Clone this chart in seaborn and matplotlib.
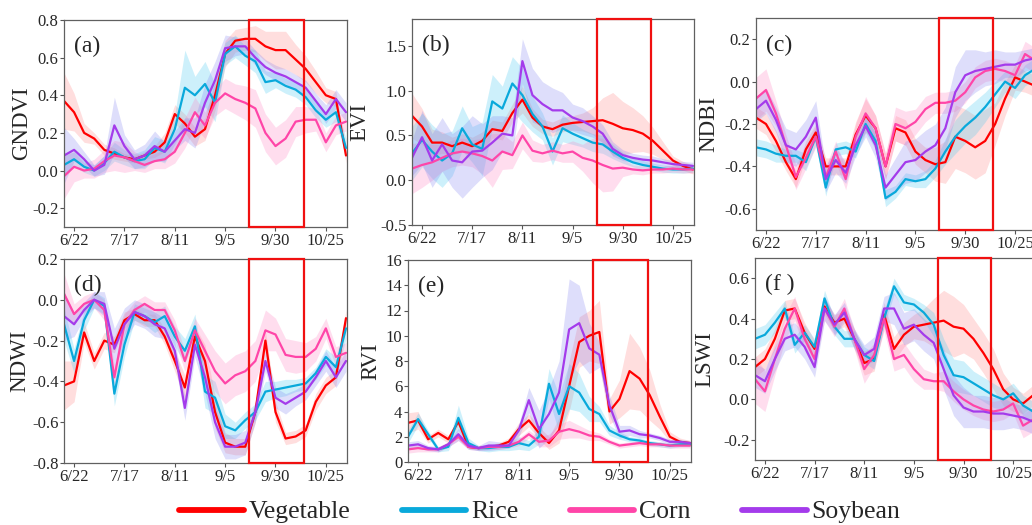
import pandas as pd
import numpy as np
import matplotlib
matplotlib.use('Agg')
import matplotlib.pyplot as plt
from matplotlib.lines import Line2D
from matplotlib.patches import Rectangle
import seaborn as sns

# days counted from 6/22, one reading every 5 days (6/17 ... 11/4)
days = [-5, 0, 5, 10, 15, 20, 25, 30, 35, 40, 45, 50, 55, 60, 65,
        70, 75, 80, 85, 90, 95, 100, 105, 110, 115, 120, 125, 130, 135]
tick_days = [0, 25, 50, 75, 100, 125]
tick_dates = ['6/22', '7/17', '8/11', '9/5', '9/30', '10/25']
box_start, box_end = 87, 114   # highlighted window (~9/17 - 10/14)

crops = ['Vegetable', 'Rice', 'Corn', 'Soybean']
line_colors = ['#FF0000', '#09A9DB', '#FF45A8', '#A43BEB']
band_colors = ['#FF8080', '#40C8F0', '#FF7FC0', '#8080F0']

# ---- GNDVI ----
gndvi_veg = [0.37, 0.31, 0.20, 0.17, 0.11, 0.09, 0.07, 0.06, 0.08, 0.10, 0.15, 0.30, 0.25, 0.18, 0.22,
             0.40, 0.62, 0.69, 0.70, 0.70, 0.66, 0.64, 0.64, 0.59, 0.54, 0.47, 0.40, 0.38, 0.08]
gndvi_rice = [0.03, 0.06, 0.02, 0.00, 0.04, 0.10, 0.07, 0.05, 0.06, 0.12, 0.10, 0.22, 0.44, 0.40, 0.46,
              0.36, 0.62, 0.66, 0.61, 0.58, 0.47, 0.48, 0.45, 0.43, 0.39, 0.32, 0.27, 0.31, 0.12]
gndvi_corn = [-0.03, 0.02, 0.00, 0.01, 0.05, 0.08, 0.07, 0.05, 0.03, 0.05, 0.06, 0.10, 0.20, 0.31, 0.24,
              0.36, 0.41, 0.38, 0.36, 0.33, 0.20, 0.13, 0.17, 0.26, 0.27, 0.27, 0.15, 0.24, 0.26]
gndvi_soy = [0.08, 0.11, 0.06, 0.00, 0.03, 0.24, 0.13, 0.06, 0.08, 0.13, 0.10, 0.16, 0.22, 0.20, 0.36,
             0.48, 0.65, 0.66, 0.66, 0.60, 0.55, 0.52, 0.50, 0.47, 0.44, 0.37, 0.30, 0.38, 0.31]
gndvi_veg_sd = [0.15, 0.10, 0.05, 0.03, 0.03, 0.03, 0.02, 0.02, 0.02, 0.03, 0.05, 0.05, 0.05, 0.05, 0.06,
                0.08, 0.07, 0.06, 0.06, 0.07, 0.08, 0.10, 0.10, 0.08, 0.07, 0.06, 0.04, 0.04, 0.04]
gndvi_rice_sd = [0.05, 0.04, 0.03, 0.03, 0.04, 0.05, 0.04, 0.04, 0.05, 0.06, 0.06, 0.08, 0.20, 0.10, 0.12,
                 0.10, 0.06, 0.06, 0.05, 0.06, 0.06, 0.04, 0.04, 0.04, 0.04, 0.04, 0.04, 0.05, 0.05]
gndvi_corn_sd = [0.12, 0.08, 0.04, 0.05, 0.06, 0.08, 0.08, 0.05, 0.04, 0.04, 0.05, 0.06, 0.08, 0.08, 0.07,
                 0.07, 0.08, 0.08, 0.09, 0.10, 0.10, 0.10, 0.10, 0.08, 0.07, 0.06, 0.05, 0.05, 0.05]
gndvi_soy_sd = [0.15, 0.06, 0.04, 0.03, 0.05, 0.15, 0.06, 0.05, 0.06, 0.08, 0.05, 0.05, 0.06, 0.08, 0.10,
                0.10, 0.07, 0.05, 0.04, 0.04, 0.04, 0.04, 0.04, 0.04, 0.04, 0.04, 0.05, 0.05, 0.05]

# ---- EVI ----
evi_veg = [0.72, 0.60, 0.42, 0.42, 0.38, 0.42, 0.38, 0.44, 0.57, 0.55, 0.75, 0.90, 0.70, 0.60, 0.57,
           0.62, 0.64, 0.65, 0.66, 0.67, 0.63, 0.58, 0.56, 0.52, 0.44, 0.33, 0.22, 0.16, 0.12]
evi_rice = [0.30, 0.45, 0.32, 0.22, 0.30, 0.58, 0.40, 0.35, 0.88, 0.80, 1.08, 0.95, 0.74, 0.60, 0.32,
            0.58, 0.52, 0.47, 0.42, 0.40, 0.32, 0.25, 0.20, 0.17, 0.15, 0.13, 0.12, 0.12, 0.13]
evi_corn = [0.13, 0.17, 0.20, 0.25, 0.30, 0.32, 0.30, 0.27, 0.22, 0.32, 0.28, 0.50, 0.33, 0.30, 0.33,
            0.30, 0.32, 0.25, 0.22, 0.17, 0.13, 0.14, 0.12, 0.11, 0.12, 0.12, 0.13, 0.12, 0.12]
evi_soy = [0.25, 0.48, 0.22, 0.40, 0.22, 0.20, 0.32, 0.33, 0.42, 0.52, 0.50, 1.33, 0.95, 0.85, 0.78,
           0.78, 0.70, 0.66, 0.60, 0.52, 0.35, 0.28, 0.25, 0.23, 0.22, 0.20, 0.18, 0.17, 0.16]
evi_veg_sd = [0.25, 0.20, 0.15, 0.12, 0.10, 0.10, 0.10, 0.10, 0.10, 0.10, 0.10, 0.15, 0.10, 0.08, 0.08,
              0.08, 0.08, 0.10, 0.15, 0.25, 0.35, 0.30, 0.25, 0.20, 0.15, 0.10, 0.05, 0.05, 0.05]
evi_rice_sd = [0.30, 0.30, 0.30, 0.30, 0.25, 0.25, 0.20, 0.30, 0.30, 0.25, 0.30, 0.30, 0.20, 0.15, 0.15,
               0.15, 0.12, 0.10, 0.10, 0.10, 0.08, 0.06, 0.05, 0.05, 0.04, 0.04, 0.04, 0.04, 0.04]
evi_corn_sd = [0.28, 0.25, 0.20, 0.15, 0.15, 0.15, 0.15, 0.20, 0.30, 0.20, 0.15, 0.15, 0.12, 0.10, 0.10,
               0.10, 0.12, 0.15, 0.25, 0.30, 0.25, 0.10, 0.05, 0.05, 0.04, 0.04, 0.04, 0.04, 0.04]
evi_soy_sd = [0.20, 0.30, 0.30, 0.30, 0.30, 0.40, 0.40, 0.30, 0.30, 0.20, 0.20, 0.25, 0.30, 0.25, 0.25,
              0.20, 0.15, 0.15, 0.12, 0.10, 0.08, 0.06, 0.05, 0.05, 0.05, 0.04, 0.04, 0.04, 0.04]

# ---- NDBI ----
ndbi_veg = [-0.17, -0.20, -0.28, -0.38, -0.46, -0.32, -0.24, -0.40, -0.40, -0.40, -0.25, -0.16, -0.22, -0.40, -0.22,
            -0.24, -0.33, -0.37, -0.39, -0.38, -0.26, -0.28, -0.31, -0.28, -0.20, -0.08, 0.02, 0.00, -0.02]
ndbi_rice = [-0.31, -0.32, -0.34, -0.35, -0.35, -0.38, -0.26, -0.50, -0.32, -0.31, -0.33, -0.20, -0.28, -0.55, -0.52,
             -0.46, -0.47, -0.46, -0.41, -0.33, -0.26, -0.21, -0.17, -0.12, -0.06, 0.00, -0.03, 0.03, 0.06]
ndbi_corn = [-0.08, -0.04, -0.15, -0.30, -0.45, -0.36, -0.26, -0.45, -0.33, -0.46, -0.26, -0.15, -0.22, -0.40, -0.20,
             -0.22, -0.19, -0.13, -0.10, -0.10, -0.09, -0.05, 0.02, 0.05, 0.06, 0.05, 0.03, 0.13, 0.10]
ndbi_soy = [-0.13, -0.09, -0.18, -0.30, -0.32, -0.26, -0.17, -0.46, -0.37, -0.43, -0.30, -0.21, -0.30, -0.50, -0.44,
            -0.38, -0.37, -0.33, -0.30, -0.22, -0.05, 0.03, 0.05, 0.06, 0.07, 0.08, 0.08, 0.10, 0.11]
ndbi_veg_sd = [0.05, 0.05, 0.05, 0.04, 0.04, 0.04, 0.04, 0.04, 0.04, 0.04, 0.06, 0.08, 0.06, 0.06, 0.06,
               0.06, 0.06, 0.06, 0.08, 0.10, 0.15, 0.15, 0.15, 0.15, 0.10, 0.08, 0.06, 0.05, 0.05]
ndbi_rice_sd = [0.04, 0.04, 0.04, 0.03, 0.03, 0.04, 0.04, 0.04, 0.03, 0.03, 0.03, 0.04, 0.04, 0.04, 0.03,
                0.03, 0.03, 0.04, 0.04, 0.06, 0.08, 0.08, 0.08, 0.07, 0.06, 0.05, 0.05, 0.05, 0.05]
ndbi_corn_sd = [0.10, 0.10, 0.06, 0.05, 0.06, 0.05, 0.05, 0.05, 0.05, 0.05, 0.06, 0.08, 0.06, 0.06, 0.08,
                0.08, 0.06, 0.06, 0.05, 0.05, 0.05, 0.05, 0.05, 0.05, 0.05, 0.05, 0.05, 0.06, 0.06]
ndbi_soy_sd = [0.06, 0.06, 0.06, 0.08, 0.08, 0.08, 0.08, 0.06, 0.06, 0.05, 0.05, 0.05, 0.06, 0.06, 0.08,
               0.10, 0.10, 0.10, 0.10, 0.10, 0.12, 0.12, 0.10, 0.08, 0.08, 0.06, 0.06, 0.05, 0.05]

# ---- NDWI ----
ndwi_veg = [-0.42, -0.40, -0.16, -0.30, -0.20, -0.22, -0.10, -0.07, -0.10, -0.10, -0.18, -0.30, -0.43, -0.18, -0.30,
            -0.55, -0.70, -0.72, -0.72, -0.55, -0.20, -0.55, -0.68, -0.67, -0.64, -0.50, -0.42, -0.38, -0.09]
ndwi_rice = [-0.12, -0.30, -0.10, 0.00, -0.03, -0.46, -0.22, -0.06, -0.08, -0.11, -0.08, -0.18, -0.25, -0.13, -0.45,
             -0.48, -0.62, -0.64, -0.59, -0.55, -0.45, -0.44, -0.43, -0.42, -0.41, -0.36, -0.28, -0.33, -0.14]
ndwi_corn = [0.03, -0.07, -0.02, 0.00, -0.05, -0.38, -0.12, -0.05, -0.02, -0.05, -0.05, -0.15, -0.30, -0.15, -0.25,
             -0.35, -0.41, -0.37, -0.35, -0.30, -0.15, -0.17, -0.27, -0.28, -0.28, -0.24, -0.14, -0.28, -0.26]
ndwi_soy = [-0.08, -0.12, -0.05, 0.00, -0.02, -0.24, -0.12, -0.06, -0.08, -0.12, -0.14, -0.25, -0.53, -0.22, -0.38,
            -0.60, -0.72, -0.72, -0.70, -0.55, -0.30, -0.48, -0.51, -0.48, -0.45, -0.38, -0.30, -0.38, -0.30]
ndwi_veg_sd = [0.12, 0.10, 0.05, 0.04, 0.04, 0.04, 0.04, 0.03, 0.03, 0.03, 0.04, 0.05, 0.06, 0.05, 0.08,
               0.08, 0.05, 0.04, 0.04, 0.05, 0.05, 0.05, 0.03, 0.03, 0.03, 0.04, 0.04, 0.04, 0.04]
ndwi_rice_sd = [0.08, 0.06, 0.05, 0.04, 0.04, 0.06, 0.06, 0.04, 0.04, 0.05, 0.05, 0.05, 0.06, 0.06, 0.08,
                0.08, 0.06, 0.04, 0.04, 0.04, 0.05, 0.04, 0.04, 0.03, 0.03, 0.03, 0.04, 0.05, 0.05]
ndwi_corn_sd = [0.10, 0.05, 0.04, 0.04, 0.05, 0.05, 0.05, 0.04, 0.04, 0.04, 0.04, 0.05, 0.05, 0.06, 0.08,
                0.10, 0.10, 0.10, 0.10, 0.10, 0.10, 0.08, 0.08, 0.08, 0.07, 0.06, 0.05, 0.05, 0.05]
ndwi_soy_sd = [0.12, 0.06, 0.04, 0.04, 0.06, 0.10, 0.08, 0.06, 0.06, 0.06, 0.05, 0.05, 0.06, 0.06, 0.08,
               0.08, 0.06, 0.06, 0.06, 0.05, 0.05, 0.05, 0.05, 0.04, 0.04, 0.04, 0.05, 0.05, 0.05]

# ---- RVI ----
rvi_veg = [3.1, 3.3, 1.8, 2.3, 1.8, 3.2, 1.2, 1.1, 1.2, 1.3, 1.6, 2.6, 3.3, 2.3, 1.5,
           2.5, 6.0, 9.5, 10.0, 10.3, 4.0, 5.0, 7.2, 6.6, 5.3, 3.6, 2.0, 1.6, 1.5]
rvi_rice = [2.0, 3.4, 2.2, 1.0, 1.2, 3.5, 1.5, 1.1, 1.1, 1.2, 1.2, 1.5, 1.3, 2.0, 6.2,
            3.8, 6.0, 5.5, 4.2, 3.8, 2.5, 2.1, 1.8, 1.7, 1.5, 1.4, 1.3, 1.4, 1.4]
rvi_corn = [1.0, 1.1, 1.0, 1.0, 1.4, 2.0, 1.2, 1.1, 1.2, 1.2, 1.3, 1.6, 2.2, 1.6, 1.7,
            2.4, 2.6, 2.4, 2.1, 2.0, 1.6, 1.3, 1.4, 1.5, 1.4, 1.4, 1.3, 1.3, 1.3]
rvi_soy = [1.3, 1.4, 1.1, 1.0, 1.4, 2.2, 1.3, 1.1, 1.3, 1.3, 1.3, 2.5, 4.9, 2.6, 3.8,
           5.5, 10.5, 11.0, 9.0, 8.5, 4.5, 2.4, 2.5, 2.2, 2.1, 1.9, 1.6, 1.6, 1.5]
rvi_veg_sd = [0.8, 0.7, 0.3, 0.3, 0.3, 0.3, 0.1, 0.1, 0.1, 0.2, 0.3, 0.5, 0.5, 0.5, 0.5,
              1.0, 2.0, 2.0, 2.0, 2.5, 1.0, 1.5, 3.0, 2.5, 2.0, 1.0, 0.4, 0.3, 0.2]
rvi_rice_sd = [0.5, 0.5, 0.3, 0.2, 0.3, 1.0, 0.4, 0.2, 0.3, 0.3, 0.3, 0.5, 0.4, 0.6, 1.2,
               1.5, 1.8, 1.5, 1.0, 0.6, 0.4, 0.3, 0.2, 0.2, 0.2, 0.2, 0.2, 0.2, 0.2]
rvi_corn_sd = [0.3, 0.3, 0.2, 0.2, 0.2, 0.3, 0.2, 0.2, 0.2, 0.2, 0.2, 0.3, 0.3, 0.4, 0.5,
               0.6, 0.7, 0.5, 0.4, 0.3, 0.2, 0.2, 0.2, 0.2, 0.2, 0.2, 0.2, 0.2, 0.2]
rvi_soy_sd = [0.3, 0.3, 0.2, 0.2, 0.2, 0.5, 0.3, 0.2, 0.4, 0.3, 0.2, 0.5, 1.0, 1.5, 2.0,
              2.5, 4.0, 3.0, 2.0, 1.0, 0.8, 0.5, 0.4, 0.3, 0.2, 0.2, 0.2, 0.2, 0.2]

# ---- LSWI ----
lswi_veg = [0.16, 0.20, 0.30, 0.44, 0.45, 0.33, 0.25, 0.46, 0.38, 0.40, 0.30, 0.18, 0.20, 0.42, 0.25,
            0.32, 0.36, 0.37, 0.38, 0.39, 0.36, 0.35, 0.30, 0.23, 0.15, 0.05, 0.00, -0.02, 0.02]
lswi_rice = [0.30, 0.32, 0.38, 0.45, 0.27, 0.33, 0.26, 0.50, 0.36, 0.30, 0.30, 0.22, 0.19, 0.40, 0.56,
             0.48, 0.47, 0.43, 0.37, 0.22, 0.12, 0.11, 0.08, 0.05, 0.02, 0.00, 0.03, -0.03, -0.06]
lswi_corn = [0.10, 0.04, 0.20, 0.35, 0.45, 0.30, 0.20, 0.45, 0.36, 0.45, 0.30, 0.15, 0.22, 0.40, 0.20,
             0.22, 0.15, 0.10, 0.09, 0.09, 0.04, 0.00, -0.03, -0.05, -0.06, -0.05, -0.02, -0.13, -0.10]
lswi_soy = [0.12, 0.09, 0.20, 0.30, 0.32, 0.26, 0.16, 0.45, 0.37, 0.43, 0.30, 0.22, 0.25, 0.45, 0.45,
            0.35, 0.37, 0.32, 0.28, 0.15, 0.02, -0.04, -0.06, -0.06, -0.07, -0.07, -0.08, -0.09, -0.11]
lswi_veg_sd = [0.05, 0.05, 0.05, 0.05, 0.05, 0.05, 0.04, 0.04, 0.04, 0.04, 0.05, 0.06, 0.06, 0.06, 0.06,
               0.06, 0.06, 0.08, 0.12, 0.15, 0.15, 0.12, 0.10, 0.10, 0.10, 0.08, 0.06, 0.05, 0.05]
lswi_rice_sd = [0.05, 0.05, 0.05, 0.04, 0.04, 0.04, 0.04, 0.04, 0.04, 0.04, 0.04, 0.04, 0.04, 0.04, 0.04,
                0.04, 0.03, 0.04, 0.06, 0.08, 0.08, 0.08, 0.06, 0.06, 0.06, 0.05, 0.05, 0.05, 0.05]
lswi_corn_sd = [0.12, 0.10, 0.08, 0.06, 0.06, 0.06, 0.05, 0.06, 0.05, 0.05, 0.05, 0.07, 0.06, 0.06, 0.06,
                0.06, 0.06, 0.05, 0.04, 0.05, 0.05, 0.05, 0.05, 0.05, 0.05, 0.05, 0.05, 0.06, 0.06]
lswi_soy_sd = [0.06, 0.06, 0.06, 0.06, 0.06, 0.06, 0.05, 0.06, 0.05, 0.05, 0.05, 0.05, 0.06, 0.06, 0.08,
               0.08, 0.08, 0.08, 0.08, 0.10, 0.10, 0.10, 0.08, 0.08, 0.08, 0.08, 0.06, 0.06, 0.06]


def long_frame(series, spreads):
    # each reading as three rows (low / mean / high) so seaborn draws the band
    rows = []
    for crop, vals, sd in zip(crops, series, spreads):
        for d, v, s in zip(days, vals, sd):
            for k in (-1, 0, 1):
                rows.append((d, v + k * s, crop))
    return pd.DataFrame(rows, columns=['day', 'value', 'crop'])


panels = [
    ('(a)', 'GNDVI', [gndvi_veg, gndvi_rice, gndvi_corn, gndvi_soy],
     [gndvi_veg_sd, gndvi_rice_sd, gndvi_corn_sd, gndvi_soy_sd], (-0.3, 0.8), [-0.2, 0.0, 0.2, 0.4, 0.6, 0.8], '%.1f'),
    ('(b)', 'EVI', [evi_veg, evi_rice, evi_corn, evi_soy],
     [evi_veg_sd, evi_rice_sd, evi_corn_sd, evi_soy_sd], (-0.5, 1.8), [-0.5, 0.0, 0.5, 1.0, 1.5], '%.1f'),
    ('(c)', 'NDBI', [ndbi_veg, ndbi_rice, ndbi_corn, ndbi_soy],
     [ndbi_veg_sd, ndbi_rice_sd, ndbi_corn_sd, ndbi_soy_sd], (-0.7, 0.3), [-0.6, -0.4, -0.2, 0.0, 0.2], '%.1f'),
    ('(d)', 'NDWI', [ndwi_veg, ndwi_rice, ndwi_corn, ndwi_soy],
     [ndwi_veg_sd, ndwi_rice_sd, ndwi_corn_sd, ndwi_soy_sd], (-0.8, 0.2), [-0.8, -0.6, -0.4, -0.2, 0.0, 0.2], '%.1f'),
    ('(e)', 'RVI', [rvi_veg, rvi_rice, rvi_corn, rvi_soy],
     [rvi_veg_sd, rvi_rice_sd, rvi_corn_sd, rvi_soy_sd], (0, 16), [0, 2, 4, 6, 8, 10, 12, 14, 16], '%d'),
    ('(f )', 'LSWI', [lswi_veg, lswi_rice, lswi_corn, lswi_soy],
     [lswi_veg_sd, lswi_rice_sd, lswi_corn_sd, lswi_soy_sd], (-0.3, 0.7), [-0.2, 0.0, 0.2, 0.4, 0.6], '%.1f'),
]

# axes boxes in figure pixels: left, top, right, bottom (figure is 1032 x 525)
boxes = [(64, 20, 347, 227), (412, 19, 694, 225), (756, 18, 1036, 230),
         (64, 259, 347, 463), (408, 260, 691, 462), (755, 258, 1034, 460)]
# right edge of each y label, in axes fraction
label_x = [-0.113, -0.149, -0.132, -0.120, -0.093, -0.141]

sns.set_style('ticks')
plt.rcParams['font.family'] = ['Liberation Serif', 'DejaVu Serif']
plt.rcParams['axes.unicode_minus'] = True

W, H = 1032, 525
fig = plt.figure(figsize=(W / 100, H / 100), dpi=100)

for (tag, name, series, spreads, ylim, yticks, fmt), (l, t, r, b), lx in zip(panels, boxes, label_x):
    ax = fig.add_axes([l / W, (H - b) / H, (r - l) / W, (b - t) / H])
    df = long_frame(series, spreads)
    for crop, lc, bc in zip(crops, line_colors, band_colors):
        sub = df[df['crop'] == crop]
        sns.lineplot(data=sub, x='day', y='value', color=lc, errorbar=None,
                     linewidth=1.6, ax=ax)
        sns.lineplot(data=sub, x='day', y='value', color=bc, errorbar=('pi', 100),
                     err_kws={'alpha': 0.26, 'linewidth': 0}, linewidth=0, ax=ax)
    ax.add_patch(Rectangle((box_start, 0), box_end - box_start, 1,
                           transform=ax.get_xaxis_transform(), fill=False,
                           edgecolor='#F01010', linewidth=1.6, zorder=5, clip_on=False))
    ax.set_xlim(-5, 135.5)
    ax.set_ylim(*ylim)
    ax.set_xticks(tick_days)
    ax.set_xticklabels(tick_dates)
    ax.set_yticks(yticks)
    ax.yaxis.set_major_formatter(matplotlib.ticker.FormatStrFormatter(fmt))
    ax.tick_params(labelsize=12, length=3, width=0.8, color='#555555', pad=1)
    for sp in ax.spines.values():
        sp.set_color('#606060')
        sp.set_linewidth(0.9)
    ax.set_xlabel('')
    ax.set_ylabel(name, fontsize=16.5)
    ax.yaxis.set_label_coords(lx, 0.5)
    ax.text(0.035, 0.87, tag, transform=ax.transAxes, fontsize=17, va='center', ha='left')

handles = [Line2D([0], [0], color=c, linewidth=4.2, solid_capstyle='round') for c in line_colors]
fig.legend(handles, crops, loc='center', bbox_to_anchor=(540 / W, 1 - 512 / H), ncol=4,
           frameon=False, fontsize=18.5, handlelength=2.5, handletextpad=0.2,
           columnspacing=2.0, borderpad=0)

fig.savefig('out.png', dpi=100)
